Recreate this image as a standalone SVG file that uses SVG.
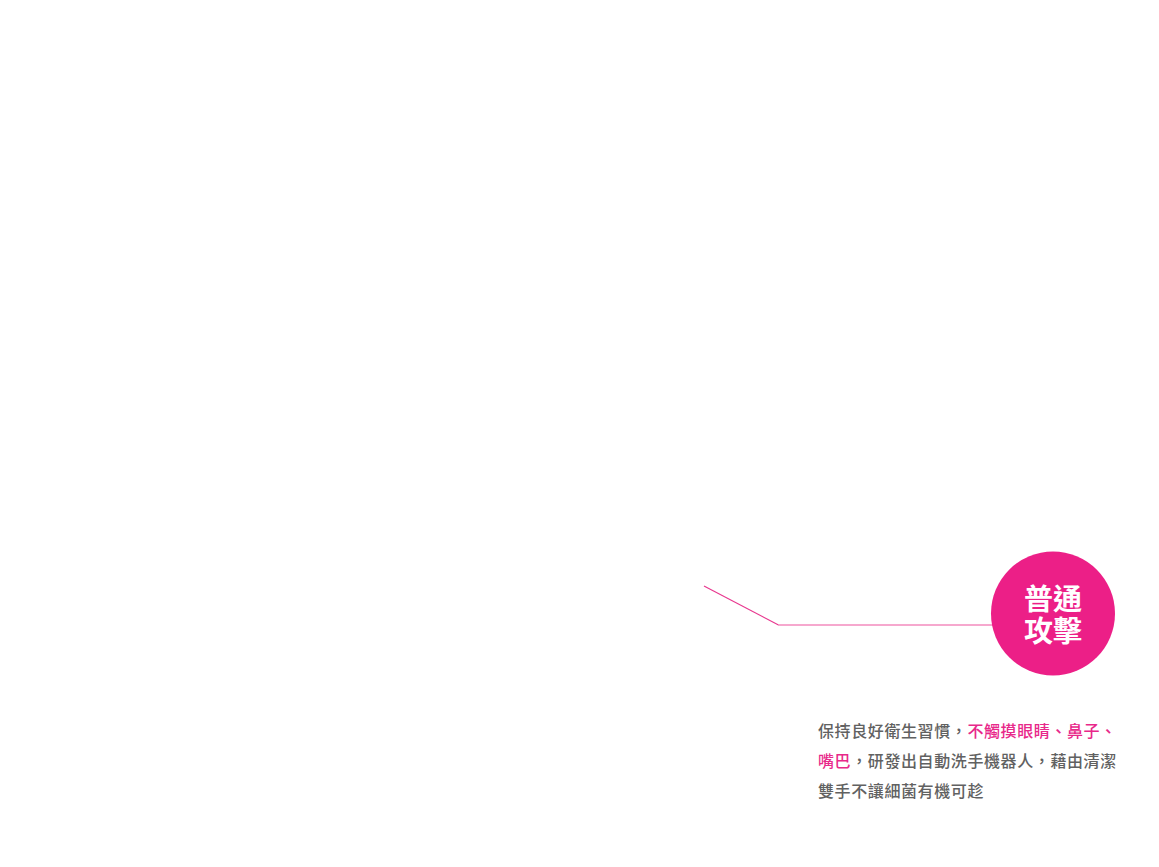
<svg xmlns="http://www.w3.org/2000/svg" width="1159" height="867" viewBox="0 0 1159 867">
<style>
.desc{font-family:"Noto Sans CJK TC","Noto Sans CJK SC",sans-serif;font-size:16px;font-weight:500;fill:#616161;letter-spacing:0.6px}
.hl{fill:#e8288a}
.badge{font-family:"Noto Sans CJK TC","Noto Sans CJK SC",sans-serif;font-size:29px;font-weight:700;fill:#ffffff;text-anchor:middle}
</style>
<rect width="1159" height="867" fill="#ffffff"/>
<g id="connectors">
<line x1="704" y1="586" x2="778.5" y2="625" stroke="#e8388f" stroke-width="1.2"/>
<line x1="778" y1="625" x2="993" y2="625" stroke="#f38bbe" stroke-width="1.6"/>
</g>
<g id="node-attack">
<circle cx="1053" cy="613.5" r="62" fill="#ec1f87"/>
<text class="badge"><tspan x="1053" y="610">普通</tspan><tspan x="1053" y="642">攻擊</tspan></text>
</g>
<g id="description">
<text class="desc" x="818" y="737">保持良好衛生習慣，<tspan class="hl">不觸摸眼睛、鼻子、</tspan></text>
<text class="desc" x="818" y="767"><tspan class="hl">嘴巴</tspan>，研發出自動洗手機器人，藉由清潔</text>
<text class="desc" x="818" y="797">雙手不讓細菌有機可趁</text>
</g>
</svg>
